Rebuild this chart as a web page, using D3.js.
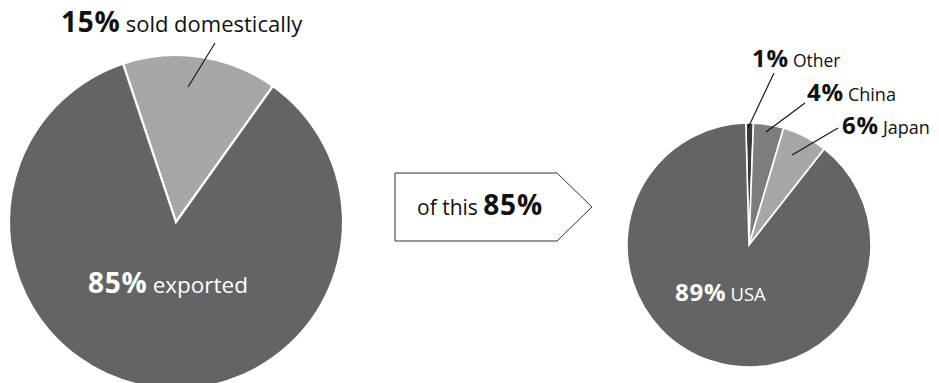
<!DOCTYPE html>
<html><head><meta charset="utf-8">
<script src="https://cdn.jsdelivr.net/npm/d3@7"></script>
<style>
html,body{margin:0;padding:0;background:#fff;}
svg{display:block;font-family:"Open Sans",sans-serif;}
</style></head>
<body>
<svg id="c" width="939" height="383"></svg>
<script>
// ---- data ----
const mainCategories = ["sold domestically", "exported"];
const mainValues = [15, 85];
const exportCategories = ["Other", "China", "Japan", "USA"];
const exportValues = [1, 4, 6, 89];
const boxLabel = ["of this ", "85%"];

const svg = d3.select("#c");
const deg = Math.PI / 180;

const mainColors = d3.scaleOrdinal().domain(mainCategories).range(["#a6a7a6", "#636463"]);
const expColors = d3.scaleOrdinal().domain(exportCategories).range(["#3a3a3a", "#7c7d7c", "#a6a7a6", "#636463"]);

function drawPie(cx, cy, r, cats, vals, color, start, sw) {
  const pie = d3.pie().sort(null).startAngle(start).endAngle(start + 2 * Math.PI);
  const arcs = pie(vals);
  const arc = d3.arc().innerRadius(0).outerRadius(r);
  const g = svg.append("g").attr("transform", `translate(${cx},${cy})`);
  g.selectAll("path").data(arcs).join("path")
    .attr("d", arc)
    .attr("fill", (d, i) => color(cats[i]))
    .attr("stroke", "#fff")
    .attr("stroke-width", sw)
    .attr("stroke-linejoin", "miter");
  return {g, arcs, r};
}

// left pie
drawPie(176, 222, 167, mainCategories, mainValues, mainColors, -18.5 * deg, 2.2);
// right pie
drawPie(749, 245, 122, exportCategories, exportValues, expColors, -1.5 * deg, 1.6);

function label(x, y, bold, reg, bs, rs, fill, gap) {
  const t = svg.append("text").attr("x", x).attr("y", y).attr("fill", fill);
  t.append("tspan").attr("font-weight", 700).attr("font-size", bs).attr("letter-spacing", 0.8).text(bold);
  t.append("tspan").attr("font-size", rs).attr("dx", gap).text(reg);
  return t;
}
function leader(x1, y1, x2, y2) {
  svg.append("line").attr("x1", x1).attr("y1", y1).attr("x2", x2).attr("y2", y2)
    .attr("stroke", "#111").attr("stroke-width", 1.1);
}

// left labels
leader(215, 43, 188, 87);
label(61, 32, mainValues[0] + "%", mainCategories[0], 28, 22, "#111", 5);
label(88, 293, mainValues[1] + "%", mainCategories[1], 28, 22.5, "#fff", 5);

// arrow box
svg.append("polygon")
  .attr("points", "395,173 557,173 592,207 557,241 395,241")
  .attr("fill", "#fff").attr("stroke", "#333").attr("stroke-width", 1);
const bt = svg.append("text").attr("x", 417).attr("y", 215).attr("fill", "#111");
bt.append("tspan").attr("font-size", 21).text(boxLabel[0]);
bt.append("tspan").attr("font-size", 28).attr("font-weight", 700).attr("letter-spacing", 0.8).text(boxLabel[1]);

// right labels
leader(774, 73, 748, 128);
leader(805, 103, 766, 132);
leader(838, 128, 792, 155);
label(752, 67, exportValues[0] + "%", exportCategories[0], 24, 17.5, "#111", 4);
label(807, 101, exportValues[1] + "%", exportCategories[1], 24, 18, "#111", 4);
label(842, 134, exportValues[2] + "%", exportCategories[2], 24, 18, "#111", 4);
label(675, 301, exportValues[3] + "%", exportCategories[3], 24, 18.5, "#fff", 4);
</script>
</body></html>
